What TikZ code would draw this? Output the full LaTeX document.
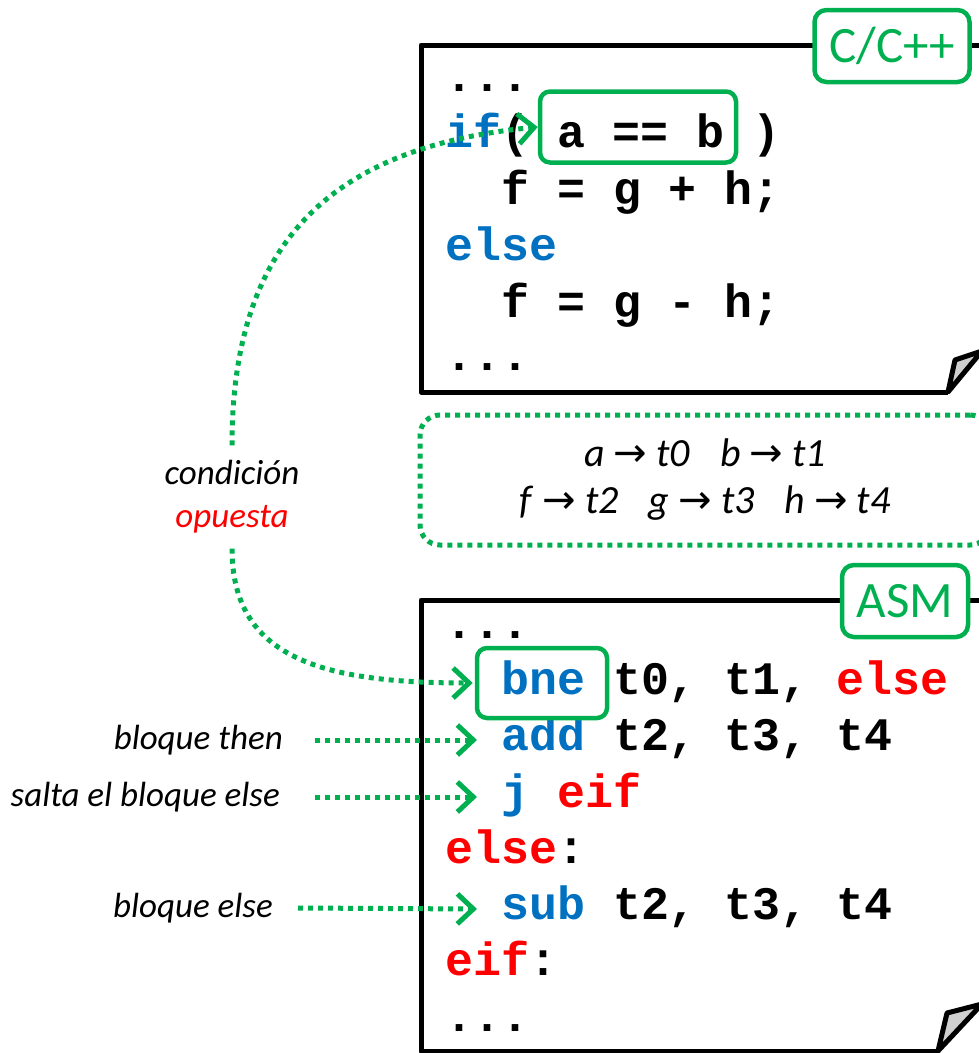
\documentclass[tikz,border=0pt]{standalone}
\usepackage{fontspec}
\setmainfont{Carlito}
\setmonofont{Liberation Mono}
\newfontfamily\arrowfont{DejaVu Sans}
\usepackage{xcolor}
\usetikzlibrary{arrows.meta,positioning,calc}

\definecolor{asmgreen}{HTML}{00B050}
\definecolor{kwblue}{HTML}{0070C0}
\definecolor{lblred}{HTML}{FF0000}
\definecolor{foldgray}{HTML}{D0D0D0}

\newcommand{\kw}[1]{\textcolor{kwblue}{#1}}
\newcommand{\lb}[1]{\textcolor{lblred}{#1}}
\newcommand{\mapto}[2]{\textit{#1} {\arrowfont →} \textit{#2}}

\tikzset{
  code/.style={anchor=base west, inner sep=0pt, text height=30pt, text depth=10pt,
    font=\fontsize{46.6}{56}\selectfont\ttfamily\bfseries},
  note/.style={inner sep=0pt, font=\fontsize{35}{43}\selectfont\itshape, align=center},
  hilite/.style={draw=asmgreen, line width=4.5pt, rounded corners=10pt},
  tag/.style={draw=asmgreen, fill=white, line width=4.5pt, rounded corners=12pt,
    font=\fontsize{51}{60}\selectfont, text=asmgreen, inner sep=0pt},
  greendots/.style={draw=asmgreen, line width=5pt, dash pattern=on 5pt off 5pt},
  arr/.style={greendots, -{Straight Barb[length=16pt,width=30pt,line width=5pt]}},
  frame/.style={line width=5pt, line join=round},
}

\begin{document}
\begin{tikzpicture}[x=1pt, y=-1pt]
    \useasboundingbox (0,0) rectangle (978,1053);

    % C/C++ sheet
    \draw[frame] (995,45) -- (421,45) -- (421,392) -- (948,392);
    \draw[frame, fill=foldgray] (948,392) -- (955,360) -- (982,351) -- cycle;
    \node[tag, minimum width=155pt, minimum height=72pt] (cpp) at (892,46) {C/C++};

    \node[code] (c1) at (445,91) {...};
    \node[code] (c2) at (445,147) {\kw{if}( a == b )};
    \node[code] (c3) at (501,204) {f = g + h;};
    \node[code] (c4) at (445,260) {\kw{else}};
    \node[code] (c5) at (501,317) {f = g - h;};
    \node[code] (c6) at (445,370) {...};
    \node[hilite, minimum width=196pt, minimum height=71pt] (cmp) at (638,127) {};

    % register mapping
    \node[greendots, rounded corners=20pt, minimum width=570pt, minimum height=130pt,
      inner sep=0pt, align=center, font=\fontsize{40}{47}\selectfont] (map) at (705,480)
      {\mapto{a}{t0}\hspace{30pt}\mapto{b}{t1}\\
       \mapto{f}{t2}\hspace{30pt}\mapto{g}{t3}\hspace{30pt}\mapto{h}{t4}};

    % ASM sheet
    \draw[frame] (995,600) -- (421,600) -- (421,1051) -- (938,1051);
    \draw[frame, fill=foldgray] (938,1051) -- (947,1013) -- (982,1004) -- cycle;
    \node[tag, minimum width=126pt, minimum height=72pt] (asm) at (905,601) {ASM};

    \node[code] (a1) at (445,638) {...};
    \node[code] (a2) at (501,694) {\kw{bne} t0, t1, \lb{else}};
    \node[code] (a3) at (501,750) {\kw{add} t2, t3, t4};
    \node[code] (a4) at (501,807) {\kw{j} \lb{eif}};
    \node[code] (a5) at (445,863) {\lb{else}:};
    \node[code] (a6) at (501,919) {\kw{sub} t2, t3, t4};
    \node[code] (a7) at (445,975) {\lb{eif}:};
    \node[code] (a8) at (445,1031) {...};
    \node[hilite, minimum width=130pt, minimum height=70pt] (bne) at (542,683) {};

    % notes on the left
    \node[note] (cond) at (232,497) {condición\\\lb{opuesta}};
    \node[note, anchor=east] (thenl) at (283,740) {bloque then};
    \node[note, anchor=east] (jumpl) at (280,797) {salta el bloque else};
    \node[note, anchor=east] (elsel) at (273,908) {bloque else};

    % arrows
    \draw[arr] ([yshift=15pt]cond.north) .. controls +(0,-200) and +(-210,20) .. (cmp.west);
    \draw[arr] ([yshift=-15pt]cond.south) .. controls +(0,110) and +(-150,0) .. ([xshift=-2pt]bne.west);
    \draw[arr] ([xshift=32pt]thenl.east) -- ([xshift=-24pt]a3.west);
    \draw[arr] ([xshift=35pt]jumpl.east) -- ([xshift=-24pt]a4.west);
    \draw[arr] ([xshift=25pt]elsel.east) -- ([xshift=-24pt]a6.west);
\end{tikzpicture}
\end{document}
